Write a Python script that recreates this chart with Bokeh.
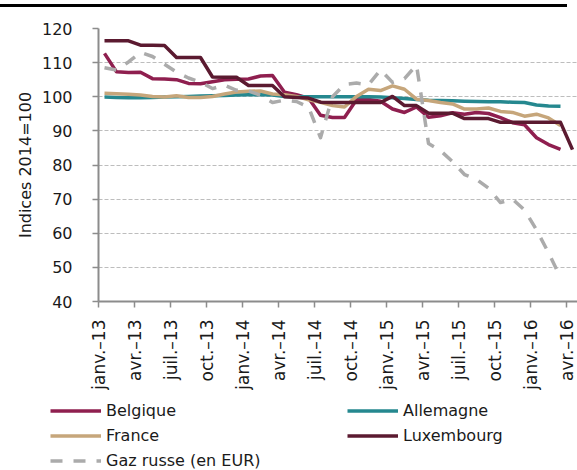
from math import pi
from bokeh.plotting import figure
from bokeh.models import Range1d, FixedTicker, Legend, LegendItem, Div, ColumnDataSource
from bokeh.layouts import column
from bokeh.embed import file_html
from bokeh.resources import INLINE

# ---- data (monthly, janv.-13 ... avr.-16) ----
tick_labels = ["janv.–13", "avr.–13", "juil.–13", "oct.–13",
               "janv.–14", "avr.–14", "juil.–14", "oct.–14",
               "janv.–15", "avr.–15", "juil.–15", "oct.–15",
               "janv.–16", "avr.–16"]

belgique = [112.7, 107.3, 107.1, 107.2, 105.3, 105.2, 105.0, 103.9, 103.8, 104.4,
            105.0, 105.1, 105.2, 106.1, 106.2, 101.3, 100.6, 99.6, 94.6, 93.9,
            93.9, 99.1, 99.2, 98.7, 96.4, 95.4, 97.0, 94.0, 94.4, 95.3,
            94.9, 95.4, 95.1, 93.9, 92.4, 91.8, 88.0, 86.0, 84.6]

allemagne = [99.9, 99.8, 99.7, 99.7, 99.8, 99.9, 100.0, 100.1, 100.2, 100.3,
             100.4, 100.5, 100.6, 100.6, 100.5, 100.1, 100.0, 100.0, 100.0, 100.0,
             100.0, 100.0, 100.0, 99.9, 99.7, 99.5, 99.2, 99.0, 98.9, 98.8,
             98.7, 98.6, 98.5, 98.5, 98.4, 98.3, 97.6, 97.3, 97.2]

france = [101.0, 100.9, 100.7, 100.5, 100.1, 99.9, 100.3, 99.8, 99.8, 100.1,
          100.8, 101.4, 101.6, 101.7, 100.8, 100.6, 100.1, 99.1, 98.4, 97.4,
          97.0, 100.1, 102.2, 101.8, 103.2, 102.2, 99.3, 98.9, 98.3, 97.9,
          96.4, 96.4, 96.7, 95.7, 95.4, 94.3, 94.9, 93.8, 91.6]

luxembourg = [116.4, 116.4, 116.4, 115.1, 115.1, 115.0, 111.5, 111.5, 111.5, 105.8,
              105.7, 105.7, 103.3, 103.3, 103.3, 100.0, 99.8, 99.6, 98.4, 98.3,
              98.3, 98.3, 98.3, 98.3, 100.1, 97.4, 97.4, 95.2, 95.2, 95.2,
              93.6, 93.6, 93.6, 92.5, 92.5, 92.5, 92.5, 92.5, 92.5, 84.5]

gaz_russe = [108.5, 107.8, 110.2, 113.0, 111.8, 109.5, 107.2, 105.5, 104.3, 102.4,
             103.4, 101.9, 101.7, 100.4, 98.3, 99.0, 98.6, 97.0, 88.0, 100.0,
             103.6, 104.0, 103.5, 107.9, 104.2, 105.3, 109.3, 86.3, 84.2, 81.0,
             77.2, 75.8, 73.2, 69.0, 70.0, 66.8, 61.0, 54.3, 47.0]

series_names = ["Belgique", "Allemagne", "France", "Luxembourg", "Gaz russe (en EUR)"]
colors = ["#8F1F4F", "#25888F", "#C6A67B", "#5B1A30", "#ABABAB"]
dashes = ["solid", "solid", "solid", "solid", "12 11"]

FONT = "DejaVu Sans"
PX_PER_MONTH = 12
FRAME_W = 479

p = figure(width=577, height=385,
           x_range=Range1d(0, FRAME_W / PX_PER_MONTH), y_range=Range1d(40, 120),
           output_backend="svg", toolbar_location=None,
           min_border_left=98, min_border_right=0, min_border_top=21, min_border_bottom=90)
p.outline_line_color = None

p.xgrid.visible = False
p.ygrid.ticker = FixedTicker(ticks=list(range(50, 121, 10)))
p.ygrid.grid_line_color = "#BDBDBD"
p.ygrid.grid_line_dash = "4 2"
p.ygrid.grid_line_width = 1

# y axis
p.yaxis.ticker = FixedTicker(ticks=list(range(40, 121, 10)))
p.yaxis.axis_label = "Indices 2014=100"
p.yaxis.axis_label_text_font = FONT
p.yaxis.axis_label_text_font_size = "16px"
p.yaxis.axis_label_text_font_style = "normal"
p.yaxis.axis_label_text_color = "#1a1a1a"
p.yaxis.axis_label_standoff = 4
p.yaxis.major_label_standoff = 20
p.yaxis.major_label_text_font_size = "16px"

# x axis
xt = list(range(0, 40, 3))
p.xaxis.ticker = FixedTicker(ticks=xt)
p.xaxis.major_label_overrides = {t: lab for t, lab in zip(xt, tick_labels)}
p.xaxis.major_label_orientation = pi / 2
p.xaxis.major_label_standoff = 12
p.xaxis.major_label_text_font_size = "17px"

for ax in (p.xaxis, p.yaxis):
    ax.axis_line_color = "#8C8C8C"
    ax.axis_line_width = 2
    ax.major_tick_line_color = "#8C8C8C"
    ax.major_tick_line_width = 1.5
    ax.major_tick_in = 0
    ax.major_tick_out = 6
    ax.minor_tick_line_color = None
    ax.major_label_text_font = FONT
    ax.major_label_text_color = "#1a1a1a"

all_series = [belgique, allemagne, france, luxembourg, gaz_russe]
sources = []
for name, vals, col, dash in zip(series_names, all_series, colors, dashes):
    src = ColumnDataSource(dict(x=[i + 0.5 for i in range(len(vals))], y=vals))
    sources.append(src)
    p.line("x", "y", source=src, line_color=col, line_width=3.5,
           line_dash=dash, line_join="round")

# ---- legend (separate strip below the chart; its ranges keep the lines out of view) ----
leg = figure(width=577, height=78, x_range=Range1d(0, 577), y_range=Range1d(1000, 1078),
             output_backend="svg", toolbar_location=None,
             min_border_left=0, min_border_right=0,
             min_border_top=0, min_border_bottom=0)
leg.frame_align = False
leg.axis.visible = False
leg.grid.visible = False
leg.outline_line_color = None

leg_renderers = []
for src, col, dash in zip(sources, colors, dashes):
    r = leg.line("x", "y", source=src, line_color=col, line_width=3.5, line_dash=dash)
    leg_renderers.append(r)

items = [LegendItem(label=n, renderers=[r]) for n, r in zip(series_names, leg_renderers)]
legend = Legend(items=items, location=(50, -3), orientation="horizontal", ncols=2,
                glyph_width=51, glyph_height=25, label_height=25, label_width=241,
                label_standoff=5, spacing=0, padding=0, margin=0,
                border_line_color=None, background_fill_alpha=0,
                label_text_font=FONT, label_text_font_size="16px",
                label_text_color="#1a1a1a")
leg.add_layout(legend, "center")

bar = Div(text="", width=567, height=3, margin=(4, 10, 0, 0),
          styles={"background-color": "black"})

layout = column(bar, p, leg, spacing=0)
open("out.html", "w").write(file_html(layout, INLINE))
